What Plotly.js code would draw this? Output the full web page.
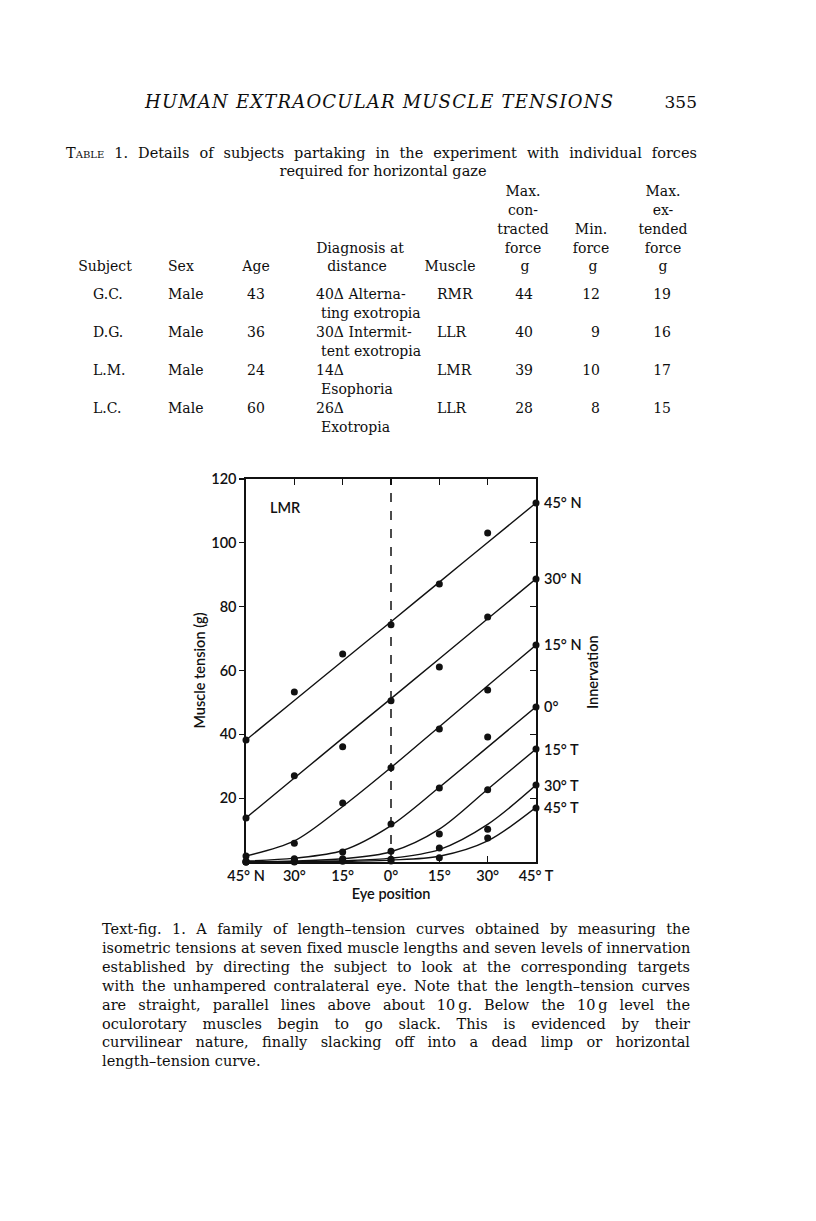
<!DOCTYPE html>
<html>
<head>
<meta charset="utf-8">
<script src="https://cdn.plot.ly/plotly-3.0.1.min.js"></script>
<style>
  html, body { margin: 0; padding: 0; background: #fff; }
  #page { position: relative; width: 816px; height: 1221px; overflow: hidden; background: #fff; color: #0e0e0e; font-family: "DejaVu Serif", "Liberation Serif", serif; }
  .t { position: absolute; white-space: nowrap; line-height: 1; }
  #plot { position: absolute; left: 150px; top: 440px; width: 500px; height: 480px; }
</style>
</head>
<body>
<div id="page">
  <div id="plot"></div>
</div>
<script>
// ---------- Table data ----------
const subjects = ['G.C.', 'D.G.', 'L.M.', 'L.C.'];
const sexes = ['Male', 'Male', 'Male', 'Male'];
const ages = [43, 36, 24, 60];
const diagnosisLine1 = ['40\u0394 Alterna-', '30\u0394 Intermit-', '14\u0394', '26\u0394'];
const diagnosisLine2 = ['ting exotropia', 'tent exotropia', 'Esophoria', 'Exotropia'];
const muscles = ['RMR', 'LLR', 'LMR', 'LLR'];
const maxContracted = [44, 40, 39, 28];
const minForce = [12, 9, 10, 8];
const maxExtended = [19, 16, 17, 15];

// ---------- Chart data ----------
const eyePositions = [-45, -30, -15, 0, 15, 30, 45];
const eyeTickText = ['45\u00b0 N', '30\u00b0', '15\u00b0', '0\u00b0', '15\u00b0', '30\u00b0', '45\u00b0 T'];
const tensionTicks = [20, 40, 60, 80, 100, 120];
const innervationLevels = ['45\u00b0 N', '30\u00b0 N', '15\u00b0 N', '0\u00b0', '15\u00b0 T', '30\u00b0 T', '45\u00b0 T'];
// measured tensions (g), one array per innervation level, at eyePositions
const measured45N = [38.2, 53.3, 65.2, 74.3, 87.1, 103.1, 112.5];
const measured30N = [13.8, 27.0, 36.1, 50.5, 61.1, 76.8, 88.7];
const measured15N = [1.9, 5.9, 18.5, 29.5, 41.7, 53.9, 68.0];
const measured0 = [0.3, 1.0, 3.1, 11.9, 23.2, 39.2, 48.6];
const measured15T = [0.0, 0.5, 1.0, 3.4, 8.8, 22.6, 35.4];
const measured30T = [0.0, 0.2, 0.5, 0.9, 4.4, 10.3, 24.1];
const measured45T = [0.0, 0.0, 0.2, 0.3, 1.3, 7.5, 16.9];
// fitted length-tension curves (g) at eyePositions
const fitted45N = [38.2, 50.6, 63.0, 75.3, 87.7, 100.1, 112.5];
const fitted30N = [13.8, 26.3, 38.8, 51.2, 63.7, 76.2, 88.7];
const fitted15N = [1.9, 6.6, 17.4, 29.6, 42.4, 55.2, 68.0];
const fitted0 = [0.3, 1.2, 3.6, 11.4, 23.4, 36.0, 48.6];
const fitted15T = [0.0, 0.3, 1.0, 3.2, 10.3, 22.8, 35.4];
const fitted30T = [0.0, 0.1, 0.4, 1.2, 3.9, 11.8, 24.1];
const fitted45T = [0.0, 0.0, 0.2, 0.6, 1.8, 6.6, 17.1];

// ---------- caption / titles ----------
const headerTitle = 'HUMAN EXTRAOCULAR MUSCLE TENSIONS';
const pageNumber = '355';
const tableCaption1 = 'Details of subjects partaking in the experiment with individual forces';
const tableCaption2 = 'required for horizontal gaze';
const captionLines = [
  'Text-fig. 1. A family of length\u2013tension curves obtained by measuring the',
  'isometric tensions at seven fixed muscle lengths and seven levels of innervation',
  'established by directing the subject to look at the corresponding targets',
  'with the unhampered contralateral eye. Note that the length\u2013tension curves',
  'are straight, parallel lines above about 10\u2009g. Below the 10\u2009g level the',
  'oculorotary muscles begin to go slack. This is evidenced by their',
  'curvilinear nature, finally slacking off into a dead limp or horizontal',
  'length\u2013tension curve.'
];

// ---------- page text helpers ----------
const page = document.getElementById('page');
function put(html, x, y, anchor, size, extra) {
  const d = document.createElement('div');
  d.className = 't';
  d.innerHTML = html;
  d.style.left = x + 'px';
  d.style.top = y + 'px';
  d.style.fontSize = (size || 13) + 'px';
  const tx = anchor === 'center' ? '-50%' : (anchor === 'right' ? '-100%' : '0');
  d.style.transform = 'translate(' + tx + ', -50%)';
  if (extra) Object.assign(d.style, extra);
  page.appendChild(d);
  return d;
}
// stretch a left-anchored line to an exact width
function fit(el, width, mode) {
  const w = el.getBoundingClientRect().width;
  const diff = width - w;
  const text = el.textContent;
  const spaces = (text.match(/ /g) || []).length;
  if (mode === 'letter' || spaces === 0 || diff < 0) {
    el.style.letterSpacing = (diff / Math.max(1, text.length - 1)) + 'px';
  } else {
    el.style.wordSpacing = (diff / spaces) + 'px';
  }
}

// header
fit(put(headerTitle, 145, 102, 'left', 18, {fontStyle: 'italic'}), 468, 'letter');
put(pageNumber, 697, 102, 'right', 17);

// table caption
fit(put('<span style="font-variant:small-caps">Table</span> 1. ' + tableCaption1, 66, 153, 'left', 14.5), 631);
put(tableCaption2, 383, 171, 'center', 14.5);

// table header
const FS = 14;
put('Max.', 523, 191, 'center', FS);
put('con-', 523, 210, 'center', FS);
put('tracted', 523, 229, 'center', FS);
put('force', 523, 248, 'center', FS);
put('g', 525, 266, 'center', FS);
put('Min.', 591, 229, 'center', FS);
put('force', 591, 248, 'center', FS);
put('g', 593, 266, 'center', FS);
put('Max.', 663, 191, 'center', FS);
put('ex-', 663, 210, 'center', FS);
put('tended', 663, 229, 'center', FS);
put('force', 663, 248, 'center', FS);
put('g', 663, 266, 'center', FS);
put('Diagnosis at', 360, 248, 'center', FS);
put('distance', 357, 266, 'center', FS);
put('Subject', 105, 266, 'center', FS);
put('Sex', 168, 266, 'left', FS);
put('Age', 256, 266, 'center', FS);
put('Muscle', 450, 266, 'center', FS);

for (let i = 0; i < subjects.length; i++) {
  const y = 294 + i * 38;
  put(subjects[i], 93, y, 'left', FS);
  put(sexes[i], 168, y, 'left', FS);
  put(String(ages[i]), 256, y, 'center', FS);
  put(diagnosisLine1[i], 316, y, 'left', FS);
  put(diagnosisLine2[i], 321, y + 19, 'left', FS);
  put(muscles[i], 437, y, 'left', FS);
  put(String(maxContracted[i]), 533, y, 'right', FS);
  put(String(minForce[i]), 600, y, 'right', FS);
  put(String(maxExtended[i]), 671, y, 'right', FS);
}

// figure caption
captionLines.forEach(function (line, i) {
  const el = put(line, 102, 929 + i * 18.9, 'left', 14.5);
  if (i < captionLines.length - 1) fit(el, 588);
});

// ---------- chart ----------
const measuredSets = [measured45N, measured30N, measured15N, measured0, measured15T, measured30T, measured45T];
const fittedSets = [fitted45N, fitted30N, fitted15N, fitted0, fitted15T, fitted30T, fitted45T];
const INK = '#111111';
const chartFont = {family: 'Lato, "Open Sans", sans-serif', size: 14.5, color: INK, weight: 600};

const traces = [];
fittedSets.forEach(function (ys, i) {
  traces.push({
    x: eyePositions, y: ys, type: 'scatter', mode: 'lines',
    line: {color: INK, width: 1.4, shape: 'spline', smoothing: 0.9},
    name: innervationLevels[i], showlegend: false, hoverinfo: 'skip'
  });
});
measuredSets.forEach(function (ys, i) {
  traces.push({
    x: eyePositions, y: ys, type: 'scatter', mode: 'markers',
    marker: {color: INK, size: 7},
    cliponaxis: false,
    name: innervationLevels[i], showlegend: false
  });
});
// carrier trace for mirror axes (top / right)
traces.push({x: [], y: [], xaxis: 'x2', yaxis: 'y2', type: 'scatter', mode: 'markers', showlegend: false});

const annotations = innervationLevels.map(function (lab, i) {
  const ys = fittedSets[i];
  return {
    x: 45, y: ys[ys.length - 1], xref: 'x', yref: 'y', text: lab,
    showarrow: false, xanchor: 'left', yanchor: 'middle', xshift: 6,
    font: chartFont
  };
});
annotations.push({
  x: -38.2, y: 111, xref: 'x', yref: 'y', text: 'LMR', showarrow: false,
  xanchor: 'left', yanchor: 'middle', font: chartFont
});
annotations.push({
  x: 1.193, y: 0.496, xref: 'paper', yref: 'paper', text: 'Innervation', showarrow: false,
  textangle: -90, xanchor: 'center', yanchor: 'middle', font: chartFont
});

const layout = {
  width: 500, height: 480,
  margin: {l: 96, r: 114, t: 39, b: 58},
  paper_bgcolor: 'rgba(0,0,0,0)', plot_bgcolor: 'rgba(0,0,0,0)',
  font: chartFont,
  showlegend: false,
  xaxis: {
    range: [-45, 45], tickvals: eyePositions, ticktext: eyeTickText,
    ticks: 'inside', ticklen: 6, tickwidth: 1.3, tickcolor: INK,
    showline: true, linecolor: INK, linewidth: 1.6,
    showgrid: false, zeroline: false, fixedrange: true,
    tickfont: chartFont,
    title: {text: 'Eye position', font: chartFont, standoff: 6}
  },
  yaxis: {
    range: [0, 120], tickvals: tensionTicks,
    ticks: 'outside', ticklen: 5, tickwidth: 1.3, tickcolor: INK,
    showline: true, linecolor: INK, linewidth: 1.6,
    showgrid: false, zeroline: false, fixedrange: true,
    tickfont: chartFont,
    title: {text: 'Muscle tension (g)', font: chartFont, standoff: 2}
  },
  xaxis2: {
    overlaying: 'x', side: 'top', range: [-45, 45], tickvals: eyePositions,
    ticks: 'inside', ticklen: 6, tickwidth: 1.3, tickcolor: INK,
    showticklabels: false, showline: true, linecolor: INK, linewidth: 1.6,
    showgrid: false, zeroline: false, fixedrange: true
  },
  yaxis2: {
    overlaying: 'y', side: 'right', range: [0, 120], tickvals: tensionTicks,
    ticks: 'inside', ticklen: 6, tickwidth: 1.3, tickcolor: INK,
    showticklabels: false, showline: true, linecolor: INK, linewidth: 1.6,
    showgrid: false, zeroline: false, fixedrange: true
  },
  shapes: [{
    type: 'line', xref: 'x', yref: 'paper', x0: 0, x1: 0, y0: 0, y1: 1,
    line: {color: INK, width: 1.5, dash: 'dash'}
  }],
  annotations: annotations
};

Plotly.newPlot('plot', traces, layout, {staticPlot: true, displayModeBar: false});
</script>
</body>
</html>
